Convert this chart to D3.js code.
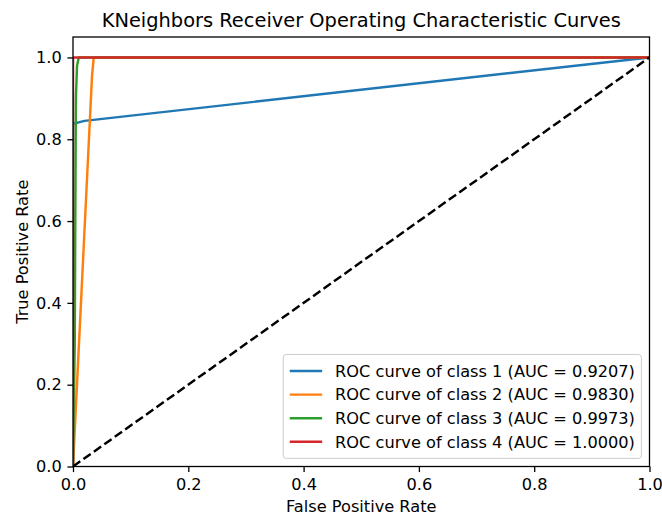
<!DOCTYPE html>
<html>
<head>
<meta charset="utf-8">
<script src="https://cdn.jsdelivr.net/npm/d3@7"></script>
<style>
  body { margin: 0; background: #fff; }
  svg { display: block; font-family: "DejaVu Sans", sans-serif; }
</style>
</head>
<body>
<svg id="chart" width="662" height="515"></svg>
<script>
// ROC points, [fpr, tpr]
const classNames = ["1", "2", "3", "4"];
const aucValues = ["0.9207", "0.9830", "0.9973", "1.0000"];
const colors = ["#1f77b4", "#ff7f0e", "#2ca02c", "#d62728"];

const roc1 = [[0, 0], [0, 0.838], [0.02, 0.845], [1, 1]];
const roc2 = [[0, 0], [0.033, 0.955], [0.036, 1], [1, 1]];
const roc3 = [[0, 0], [0.003, 0.3], [0.005, 0.9], [0.007, 0.98], [0.01, 1], [1, 1]];
const roc4 = [[0, 0], [0, 1], [1, 1]];
const chance = [[0, 0], [1, 1]];

const ticks = [0, 0.2, 0.4, 0.6, 0.8, 1.0];

const curves = [roc1, roc2, roc3, roc4];

const svg = d3.select('#chart');
const W = 662, H = 515;
const margin = { top: 37, right: 12.5, bottom: 48.5, left: 73 };
const w = W - margin.left - margin.right;
const h = H - margin.top - margin.bottom;

const fs = 16.2;    // tick, label and legend size
const lw = 2.45;    // curve width

const x = d3.scaleLinear().domain([0, 1]).range([0, w]);
const y = d3.scaleLinear().domain([0, 1.05]).range([h, 0]);

const g = svg.append('g').attr('transform', `translate(${margin.left},${margin.top})`);

g.append('clipPath').attr('id', 'clip')
    .append('rect').attr('width', w).attr('height', h);

const line = d3.line().x(d => x(d[0])).y(d => y(d[1]));
const plot = g.append('g').attr('clip-path', 'url(#clip)');

plot.selectAll('path.roc')
    .data(curves)
    .enter()
    .append('path')
    .attr('class', 'roc')
    .attr('d', d => line(d))
    .attr('fill', 'none')
    .attr('stroke', (d, i) => colors[i])
    .attr('stroke-width', lw)
    .attr('stroke-linejoin', 'round');

plot.append('path')
    .attr('d', line(chance))
    .attr('fill', 'none')
    .attr('stroke', '#000')
    .attr('stroke-width', lw)
    .attr('stroke-dasharray', '8.9,3.9');

// axes
const xAxis = d3.axisBottom(x).tickValues(ticks).tickFormat(d3.format('.1f')).tickSize(5.6).tickPadding(6);
const yAxis = d3.axisLeft(y).tickValues(ticks).tickFormat(d3.format('.1f')).tickSize(5.6).tickPadding(5.6);

const gx = g.append('g').attr('transform', `translate(0,${h})`).call(xAxis);
const gy = g.append('g').call(yAxis);
[gx, gy].forEach(a => {
    a.select('.domain').remove();
    a.selectAll('line').attr('stroke', '#000').attr('stroke-width', 1.3);
    a.selectAll('text').attr('font-size', fs + 'px').attr('fill', '#000')
        .attr('font-family', '"DejaVu Sans", sans-serif');
});

g.append('rect')
    .attr('width', w).attr('height', h)
    .attr('fill', 'none').attr('stroke', '#000').attr('stroke-width', 1.3);

// title and labels
svg.append('text')
    .attr('x', margin.left + w / 2).attr('y', 27)
    .attr('text-anchor', 'middle').attr('font-size', '19.4px')
    .text('KNeighbors Receiver Operating Characteristic Curves');

svg.append('text')
    .attr('x', margin.left + w / 2).attr('y', 512)
    .attr('text-anchor', 'middle').attr('font-size', fs + 'px')
    .text('False Positive Rate');

svg.append('text')
    .attr('transform', `translate(28,${margin.top + h / 2}) rotate(-90)`)
    .attr('text-anchor', 'middle').attr('font-size', fs + 'px')
    .text('True Positive Rate');

// legend, lower right
const labels = classNames.map((c, i) => `ROC curve of class ${c} (AUC = ${aucValues[i]})`);
const leg = g.append('g');
const legBox = leg.append('rect');
const rowH = 23.6;
const rows = leg.selectAll('g.row')
    .data(labels)
    .enter()
    .append('g')
    .attr('class', 'row');

rows.append('line')
    .attr('x1', 0).attr('x2', 2 * fs)
    .attr('stroke', (d, i) => colors[i])
    .attr('stroke-width', lw);

rows.append('text')
    .attr('x', 2.8 * fs)
    .attr('dy', '0.36em')
    .attr('font-size', fs + 'px')
    .text(d => d);

let maxW = 0;
rows.selectAll('text').each(function () { maxW = Math.max(maxW, this.getComputedTextLength()); });
const padX = 0.2 * fs + 0.2 * fs, padY = 0.4 * fs + 2;
const boxW = 2.8 * fs + maxW + 2 * padX;
const boxH = (labels.length - 1) * rowH + fs + 2 * padY;
const boxX = w - 0.5 * fs - boxW;
const boxY = h - 0.5 * fs - boxH;
legBox.attr('x', boxX).attr('y', boxY).attr('width', boxW).attr('height', boxH)
    .attr('rx', 3).attr('fill', '#fff').attr('fill-opacity', 0.8)
    .attr('stroke', '#cccccc').attr('stroke-width', 1);
rows.attr('transform', (d, i) => `translate(${boxX + padX},${boxY + padY + fs / 2 + i * rowH})`);
</script>
</body>
</html>
